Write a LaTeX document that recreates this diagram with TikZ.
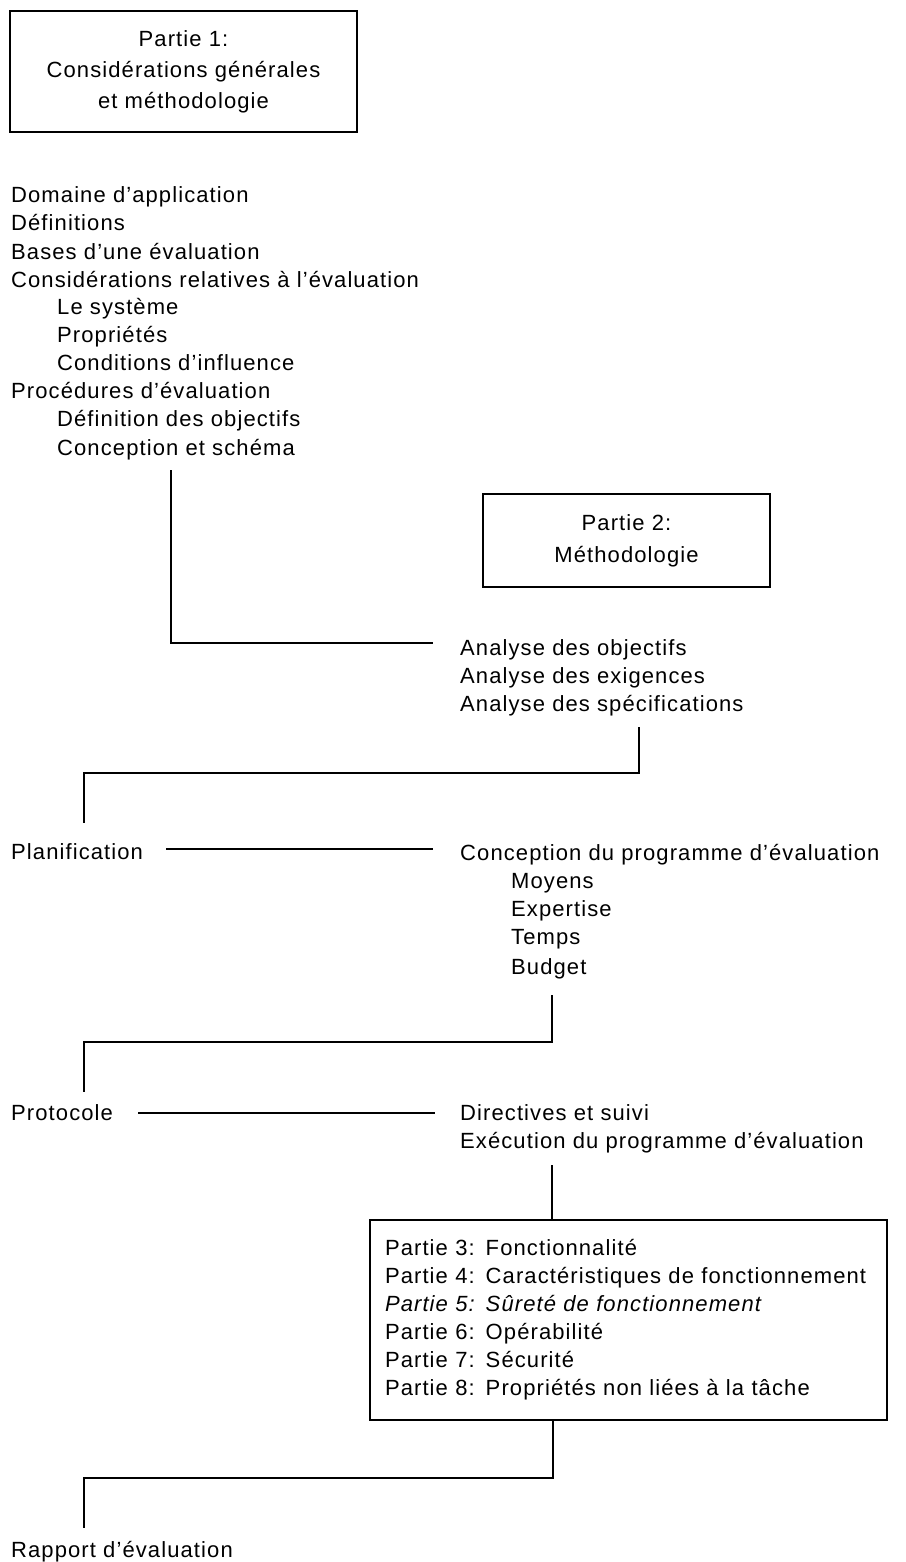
\documentclass[tikz,border=0pt]{standalone}
\usepackage{fontspec}
\setmainfont{Liberation Sans}[LetterSpace=5]
\begin{document}
\begin{tikzpicture}[x=1pt,y=-1pt,
  lbl/.style={anchor=base west, inner sep=0pt, font=\fontsize{22}{28}\selectfont},
  wire/.style={line width=1.6pt},
  frame/.style={draw, line width=1.6pt, inner sep=0pt}]
\useasboundingbox (0,0) rectangle (905,1562);

% Box 1
\node[frame, minimum width=347pt, minimum height=121pt, align=center,
      font=\fontsize{22}{31}\selectfont] (p1) at (183.5,71.5)
      {Partie 1:\\Considérations générales\\et méthodologie};

% List 1
\node[lbl] (d1) at (11,203) {Domaine d'application};
\node[lbl] (d2) at (11,231) {Définitions};
\node[lbl] (d3) at (11,259) {Bases d'une évaluation};
\node[lbl] (d4) at (11,287) {Considérations relatives à l'évaluation};
\node[lbl] (d5) at (57,314) {Le système};
\node[lbl] (d6) at (57,342) {Propriétés};
\node[lbl] (d7) at (57,370) {Conditions d'influence};
\node[lbl] (d8) at (11,398) {Procédures d'évaluation};
\node[lbl] (d9) at (57,426) {Définition des objectifs};
\node[lbl] (d10) at (57,455) {Conception et schéma};

% Box 2
\node[frame, minimum width=287pt, minimum height=93pt, align=center,
      font=\fontsize{22}{32}\selectfont] (p2) at (626.5,540.5)
      {Partie 2:\\Méthodologie};

% Analyse
\node[lbl] (a1) at (460,655) {Analyse des objectifs};
\node[lbl] (a2) at (460,683) {Analyse des exigences};
\node[lbl] (a3) at (460,711) {Analyse des spécifications};

% Planification
\node[lbl] (pl) at (11,859) {Planification};
\node[lbl] (cp) at (460,860) {Conception du programme d'évaluation};
\node[lbl] (m1) at (511,888) {Moyens};
\node[lbl] (m2) at (511,916) {Expertise};
\node[lbl] (m3) at (511,944) {Temps};
\node[lbl] (m4) at (511,974) {Budget};

% Protocole
\node[lbl] (pr) at (11,1120) {Protocole};
\node[lbl] (ds) at (460,1120) {Directives et suivi};
\node[lbl] (ex) at (460,1148) {Exécution du programme d'évaluation};

% Box 3
\node[frame, minimum width=517pt, minimum height=200pt, align=left,
      text width=487pt, inner xsep=15pt,
      font=\fontsize{22}{28}\selectfont] (p3) at (628.5,1320)
      {Partie 3: Fonctionnalité\\
       Partie 4: Caractéristiques de fonctionnement\\
       {\itshape Partie 5: Sûreté de fonctionnement}\\
       Partie 6: Opérabilité\\
       Partie 7: Sécurité\\
       Partie 8: Propriétés non liées à la tâche};

\node[lbl] (ra) at (11,1557) {Rapport d'évaluation};

% connectors
\coordinate (c1a) at (171,470);
\coordinate (c1b) at (433,643);
\draw[wire] (c1a) |- (c1b);

\coordinate (c2a) at (639,727);
\coordinate (c2b) at (84,773);
\coordinate (c2c) at (84,823);
\draw[wire] (c2a) |- (c2b) -- (c2c);

\coordinate (l1a) at (166,849);
\coordinate (l1b) at (433,849);
\draw[wire] (l1a) -- (l1b);

\coordinate (c3a) at (552,995);
\coordinate (c3b) at (84,1042);
\coordinate (c3c) at (84,1092);
\draw[wire] (c3a) |- (c3b) -- (c3c);

\coordinate (l2a) at (138,1113);
\coordinate (l2b) at (435,1113);
\draw[wire] (l2a) -- (l2b);

\coordinate (c4a) at (552,1165);
\draw[wire] (c4a) -- (c4a |- p3.north);

\coordinate (c5b) at (84,1478);
\coordinate (c5c) at (84,1528);
\draw[wire] (p3.south -| 553,0) |- (c5b) -- (c5c);
\end{tikzpicture}
\end{document}
